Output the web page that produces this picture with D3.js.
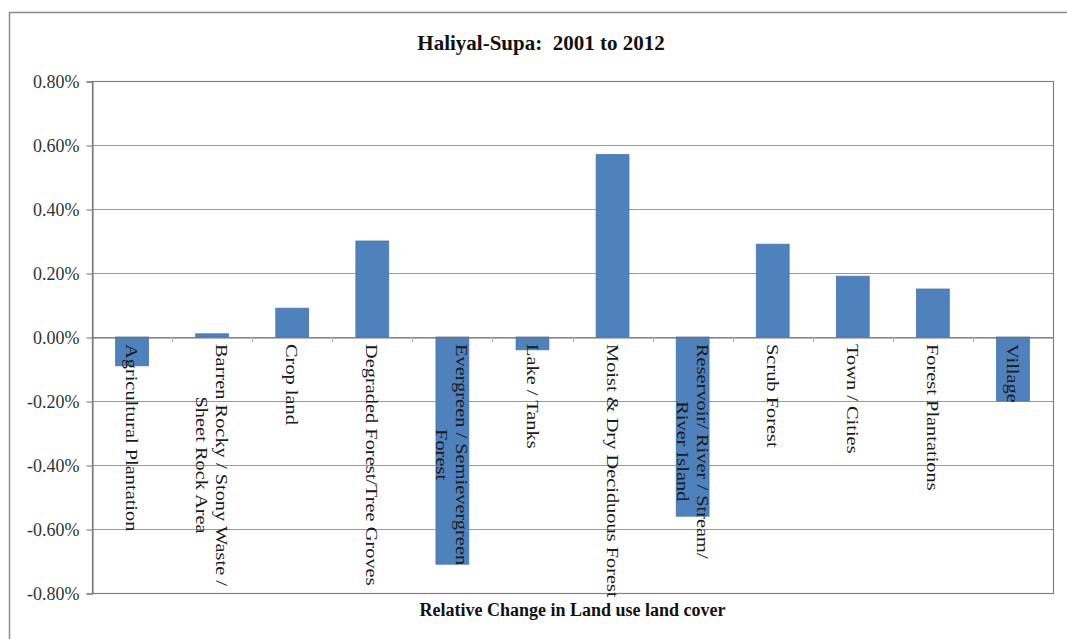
<!DOCTYPE html>
<html>
<head>
<meta charset="utf-8">
<script src="https://cdn.jsdelivr.net/npm/d3@7"></script>
<style>
  body { margin: 0; background: #fff; }
  svg text { font-family: "Liberation Serif", "Times New Roman", serif; }
</style>
</head>
<body>
<div id="chart"></div>
<script>

const categories = [
  "Agricultural Plantation",
  "Barren Rocky / Stony Waste /\nSheet Rock Area",
  "Crop land",
  "Degraded Forest/Tree Groves",
  "Evergreen / Semievergreen\nForest",
  "Lake / Tanks",
  "Moist & Dry Deciduous Forest",
  "Reservoir/ River / Stream/\nRiver Island",
  "Scrub Forest",
  "Town / Cities",
  "Forest Plantations",
  "Village"
];

// relative change, in percent
const values = [-0.09, 0.01, 0.09, 0.30, -0.71, -0.04, 0.57, -0.56, 0.29, 0.19, 0.15, -0.20];

const yTicks = [-0.8, -0.6, -0.4, -0.2, 0, 0.2, 0.4, 0.6, 0.8];

const title = "Haliyal-Supa:  2001 to 2012";
const xTitle = "Relative Change in Land use land cover";

const width = 1067;
const height = 639;
const margin = {top: 81, left: 92, right: 14, bottom: 46};

/*
  CREATE THE SVG CANVAS
*/
const svg = d3.select("#chart")
  .append("svg")
  .attr("width", width)
  .attr("height", height);

// outer chart border
svg.append("rect")
  .attr("x", 9.5)
  .attr("y", 12.5)
  .attr("width", 1080)
  .attr("height", 700)
  .attr("fill", "none")
  .attr("stroke", "#8c8c8c")
  .attr("stroke-width", 1.5);

/* Scales */
const xScale = d3.scaleBand()
  .domain(categories)
  .range([margin.left, width - margin.right])
  .paddingInner(0.59)
  .paddingOuter(0.295);

const yScale = d3.scaleLinear()
  .domain([-0.8, 0.8])
  .range([height - margin.bottom, margin.top]);

/* Gridlines */
svg.append("g")
  .selectAll("line")
  .data(yTicks)
  .enter()
  .append("line")
  .attr("x1", margin.left)
  .attr("x2", width - margin.right)
  .attr("y1", d => Math.round(yScale(d)) + 0.5)
  .attr("y2", d => Math.round(yScale(d)) + 0.5)
  .attr("stroke", "#9a9a9a")
  .attr("stroke-width", 1.2);

// plot border
svg.append("rect")
  .attr("x", margin.left + 0.5)
  .attr("y", Math.round(yScale(0.8)) + 0.5)
  .attr("width", width - margin.right - margin.left)
  .attr("height", Math.round(yScale(-0.8)) - Math.round(yScale(0.8)))
  .attr("fill", "none")
  .attr("stroke", "#808080")
  .attr("stroke-width", 1.2);

/* Y axis */
const yAxis = d3.axisLeft(yScale)
  .tickValues(yTicks)
  .tickSize(6)
  .tickPadding(7)
  .tickFormat(d => (d < 0 ? "-" : "") + Math.abs(d).toFixed(2) + "%");

const yG = svg.append("g")
  .attr("transform", `translate(${margin.left + 0.5},0.5)`)
  .call(yAxis)
  .attr("font-family", "'Liberation Serif', serif")
  .attr("font-size", 18);
yG.select(".domain").attr("stroke", "#707070");
yG.selectAll(".tick line").attr("stroke", "#707070");
yG.selectAll(".tick text").attr("fill", "#333");

/* Bars */
svg.append("g")
  .selectAll("rect")
  .data(values)
  .enter()
  .append("rect")
  .attr("x", (d, i) => xScale(categories[i]))
  .attr("y", d => yScale(Math.max(0, d)))
  .attr("width", xScale.bandwidth())
  .attr("height", d => Math.abs(yScale(d) - yScale(0)))
  .attr("fill", "#4f81bd")
  .attr("stroke", "#4677b3")
  .attr("stroke-width", 0.8);

/* X axis on the zero line */
const xAxis = d3.axisBottom(xScale)
  .tickSize(0)
  .tickFormat("");

const xG = svg.append("g")
  .attr("transform", `translate(0,${Math.round(yScale(0)) + 0.5})`)
  .call(xAxis);
xG.select(".domain").attr("stroke", "#707070");

// tick marks at category boundaries
const step = xScale.step();
svg.append("g")
  .selectAll("line")
  .data(categories.slice(1))
  .enter()
  .append("line")
  .attr("x1", d => Math.round(xScale(d) - step * xScale.paddingInner() / 2) + 0.5)
  .attr("x2", d => Math.round(xScale(d) - step * xScale.paddingInner() / 2) + 0.5)
  .attr("y1", Math.round(yScale(0)))
  .attr("y2", Math.round(yScale(0)) + 5)
  .attr("stroke", "#b0b0b0");

/* Category labels, rotated so they read downward */
const labelTop = yScale(0) + 7;
const lineGap = 20;
const stretch = 1.2;

categories.forEach(function(c) {
  const lines = c.split("\n");
  const cx = xScale(c) + xScale.bandwidth() / 2;
  const g = svg.append("g")
    .attr("transform", `translate(${cx},${labelTop}) rotate(90) scale(${stretch},1)`);

  // first line on the right, following lines step to the left
  const texts = g.selectAll("text")
    .data(lines)
    .enter()
    .append("text")
    .attr("y", (d, i) => (i - (lines.length - 1) / 2) * lineGap)
    .attr("dy", "0.35em")
    .attr("fill", "#1a1a1a")
    .style("font-size", "17px")
    .text(d => d);

  let maxLen = 0;
  texts.each(function() { maxLen = Math.max(maxLen, this.getComputedTextLength()); });
  texts.attr("x", maxLen / 2).attr("text-anchor", "middle");
});

/* Titles */
svg.append("text")
  .attr("x", 541)
  .attr("y", 50)
  .attr("text-anchor", "middle")
  .attr("fill", "#111")
  .style("font-size", "21px")
  .style("font-weight", "bold")
  .style("white-space", "pre")
  .text(title);

svg.append("text")
  .attr("x", (margin.left + width - margin.right) / 2)
  .attr("y", 616)
  .attr("text-anchor", "middle")
  .attr("fill", "#111")
  .style("font-size", "18px")
  .style("font-weight", "bold")
  .text(xTitle);

</script>
</body>
</html>
